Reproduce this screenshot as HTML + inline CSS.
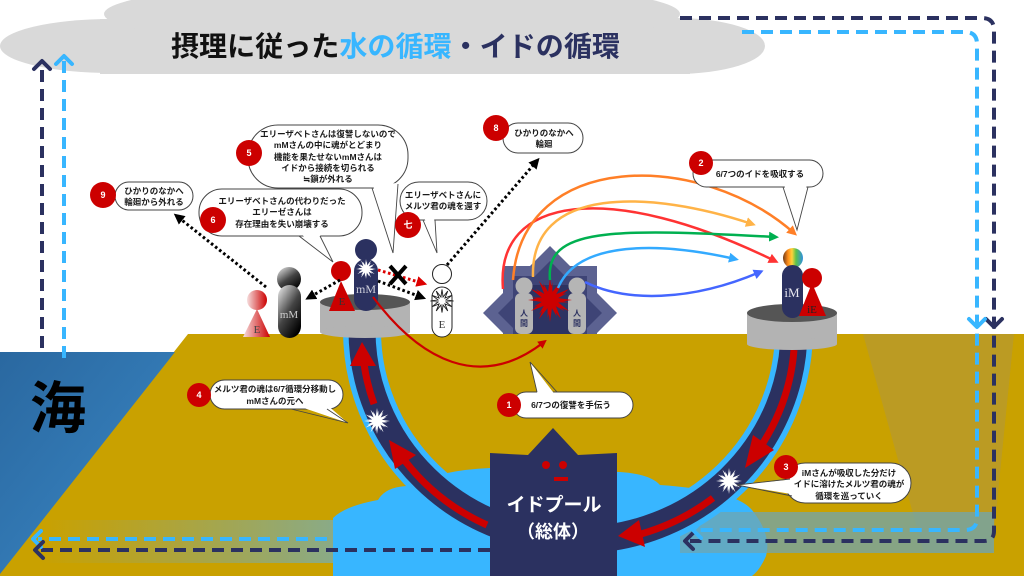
<!DOCTYPE html>
<html><head><meta charset="utf-8">
<style>
html,body{margin:0;padding:0;background:#fff;}
svg{display:block;}
.t{font-family:"Liberation Sans","Noto Sans CJK JP",sans-serif;font-weight:bold;font-size:8.5px;fill:#1a1a1a;text-anchor:middle;}
.n{font-family:"Liberation Sans","Noto Sans CJK JP",sans-serif;font-weight:bold;font-size:9px;fill:#fff;text-anchor:middle;}
.s{font-family:"Liberation Serif",serif;text-anchor:middle;}
.b{fill:#fff;stroke:#444;stroke-width:1;}
</style></head>
<body>
<svg width="1024" height="576" viewBox="0 0 1024 576" xmlns="http://www.w3.org/2000/svg">
<defs>
<path id="burst" d="M10,0 L3.48,0.93 L8.66,5 L2.55,2.55 L5,8.66 L0.93,3.48 L0,10 L-0.93,3.48 L-5,8.66 L-2.55,2.55 L-8.66,5 L-3.48,0.93 L-10,0 L-3.48,-0.93 L-8.66,-5 L-2.55,-2.55 L-5,-8.66 L-0.93,-3.48 L0,-10 L0.93,-3.48 L5,-8.66 L2.55,-2.55 L8.66,-5 L3.48,-0.93 Z"/>
<linearGradient id="seaG" x1="0" y1="0" x2="1" y2="1"><stop offset="0" stop-color="#2a68a0"/><stop offset="1" stop-color="#3a88c6"/></linearGradient>
<linearGradient id="bandL" x1="0" y1="0" x2="1" y2="0"><stop offset="0" stop-color="#7aa8a8" stop-opacity="0"/><stop offset="1" stop-color="#6fb0c0" stop-opacity="0.9"/></linearGradient>
<linearGradient id="pinkG" x1="0" y1="0" x2="1" y2="0"><stop offset="0" stop-color="#f6dede"/><stop offset="1" stop-color="#cc0000"/></linearGradient>
<linearGradient id="grayG" x1="0" y1="0" x2="0.7" y2="1"><stop offset="0" stop-color="#f2f2f2"/><stop offset="0.55" stop-color="#444"/><stop offset="1" stop-color="#000"/></linearGradient>
<linearGradient id="rainG" x1="0" y1="0" x2="1" y2="0"><stop offset="0" stop-color="#6b3a1a"/><stop offset="0.25" stop-color="#ff8c1a"/><stop offset="0.45" stop-color="#ffd23a"/><stop offset="0.65" stop-color="#5cc24a"/><stop offset="1" stop-color="#2f8fe0"/></linearGradient>
<marker id="mR" viewBox="0 0 10 10" refX="6" refY="5" markerWidth="4" markerHeight="4" orient="auto"><path d="M0,0 L10,5 L0,10 z" fill="#ff3333"/></marker>
<marker id="mO" viewBox="0 0 10 10" refX="6" refY="5" markerWidth="4" markerHeight="4" orient="auto"><path d="M0,0 L10,5 L0,10 z" fill="#ff7f27"/></marker>
<marker id="mY" viewBox="0 0 10 10" refX="6" refY="5" markerWidth="4" markerHeight="4" orient="auto"><path d="M0,0 L10,5 L0,10 z" fill="#ffb347"/></marker>
<marker id="mG" viewBox="0 0 10 10" refX="6" refY="5" markerWidth="4" markerHeight="4" orient="auto"><path d="M0,0 L10,5 L0,10 z" fill="#00b050"/></marker>
<marker id="mL" viewBox="0 0 10 10" refX="6" refY="5" markerWidth="4" markerHeight="4" orient="auto"><path d="M0,0 L10,5 L0,10 z" fill="#33aaff"/></marker>
<marker id="mB" viewBox="0 0 10 10" refX="6" refY="5" markerWidth="4" markerHeight="4" orient="auto"><path d="M0,0 L10,5 L0,10 z" fill="#4466ff"/></marker>
<marker id="mRed" viewBox="0 0 10 10" refX="6" refY="5" markerWidth="4" markerHeight="4" orient="auto"><path d="M0,0 L10,5 L0,10 z" fill="#cc0000"/></marker>
<marker id="mK" viewBox="0 0 10 10" refX="5" refY="5" markerWidth="3.6" markerHeight="3.6" orient="auto"><path d="M0,0 L10,5 L0,10 z" fill="#000"/></marker>
<marker id="mKr" viewBox="0 0 10 10" refX="5" refY="5" markerWidth="3.6" markerHeight="3.6" orient="auto"><path d="M0,0 L10,5 L0,10 z" fill="#dd0000"/></marker>
</defs>

<!-- cloud -->
<g fill="#d9d9d9">
<ellipse cx="112" cy="46" rx="112" ry="27"/>
<rect x="100" y="19" width="590" height="55"/>
<ellipse cx="675" cy="46" rx="90" ry="28"/>
<ellipse cx="392" cy="14" rx="288" ry="33"/>
</g>
<text x="171" y="56" font-family="'Liberation Sans','Noto Sans CJK JP',sans-serif" font-weight="bold" font-size="28" textLength="449" lengthAdjust="spacingAndGlyphs"><tspan fill="#111">摂理に従った</tspan><tspan fill="#38b6ff">水の循環</tspan><tspan fill="#2b3160">・イドの循環</tspan></text>

<!-- building star (behind ground) -->
<g>
<rect x="503" y="266" width="94" height="94" fill="#5c6291"/>
<polygon points="550,246 617,313 550,380 483,313" fill="#5c6291"/>
<rect x="513" y="276" width="74" height="74" fill="#3e4476"/>
<polygon points="550,261 602,313 550,365 498,313" fill="#3e4476"/>
<rect x="522" y="285" width="56" height="56" fill="#2d3362"/>
</g>

<!-- ground & sea -->
<polygon points="188,334 1024,334 1024,576 0,576 0,573" fill="#c9a100"/>
<polygon points="0,352 175,352 0,574" fill="url(#seaG)"/>
<text x="58" y="428" font-family="'Liberation Sans','Noto Sans CJK JP',sans-serif" font-weight="bold" font-size="56" fill="#000" text-anchor="middle">海</text>

<!-- right shade & bands -->
<polygon points="863,334 1014,334 992,553 924,553" fill="#8a8aa0" opacity="0.22"/>
<rect x="40" y="520" width="365" height="43" fill="url(#bandL)"/>

<!-- water blob -->
<path d="M333,576 L333,518 Q345,506 378,500 Q386,486 410,486 Q440,470 490,468 L620,472 Q650,474 660,485 Q735,490 752,510 Q772,535 766,556 Q760,570 752,576 Z" fill="#38b6ff"/>
<rect x="680" y="512" width="314" height="41" fill="#6fa6b0" opacity="0.75"/>

<!-- dashed lines -->
<g fill="none" stroke-width="4" stroke-dasharray="12 7">
<path d="M680,18 H982 Q994,18 994,30 V531 Q994,541 984,541 H690" stroke="#2b3160"/>
<path d="M742,32 H965 Q977,32 977,44 V518 Q977,530 965,530 H698" stroke="#38b6ff"/>
<path d="M403,539 H38" stroke="#38b6ff"/>
<path d="M490,550 H40" stroke="#2b3160"/>
<path d="M42,348 V66" stroke="#2b3160"/>
<path d="M64,358 V60" stroke="#38b6ff"/>
</g>
<g fill="none" stroke-width="4" stroke-linecap="round" stroke-linejoin="round">
<polyline points="986,319 994,327 1002,319" stroke="#2b3160"/>
<polyline points="969,319 977,327 985,319" stroke="#38b6ff"/>
<polyline points="693,533 685,541 693,549" stroke="#2b3160"/>
<polyline points="701,522 693,530 701,538" stroke="#38b6ff"/>
<polyline points="41,531 33,539 41,547" stroke="#38b6ff"/>
<polyline points="43,542 35,550 43,558" stroke="#2b3160"/>
<polyline points="34,69 42,61 50,69" stroke="#2b3160"/>
<polyline points="56,64 64,56 72,64" stroke="#38b6ff"/>
</g>

<!-- U tube -->
<path d="M362,330 A216,210 0 0 0 794,330" fill="none" stroke="#38b6ff" stroke-width="38"/>
<path d="M362,330 A216,210 0 0 0 794,330" fill="none" stroke="#2b3160" stroke-width="27"/>
<g fill="none" stroke="#cc0000" stroke-width="7">
<path d="M374,404 A216,210 0 0 1 364,364"/>
<path d="M487,525 A216,210 0 0 1 405,461"/>
<path d="M794,350 A216,210 0 0 1 763,443"/>
<path d="M713,498 A216,210 0 0 1 641,534"/>
</g>
<g fill="#cc0000">
<polygon points="362,342 376,366 350,366"/>
<polygon points="389,440 416,455 395,469"/>
<polygon points="745,468 774,450 753,435"/>
<polygon points="618,536 645,547 639,520"/>
</g>
<g fill="#fff">
<use href="#burst" transform="translate(377,421) scale(1.3)"/>
<use href="#burst" transform="translate(377,421) scale(1.05) rotate(7.5)"/>
<use href="#burst" transform="translate(729,481) scale(1.3)"/>
<use href="#burst" transform="translate(729,481) scale(1.05) rotate(7.5)"/>
</g>

<!-- Id pool figure -->
<polygon points="490,453 528,455 553,428 578,455 617,453 617,576 490,576" fill="#2b3160"/>
<circle cx="546" cy="465" r="4" fill="#cc0000"/>
<circle cx="563" cy="465" r="4" fill="#cc0000"/>
<rect x="554" y="477" width="14" height="4" fill="#cc0000"/>
<text x="554" y="511" font-family="'Liberation Sans','Noto Sans CJK JP',sans-serif" font-weight="bold" font-size="19" fill="#fff" text-anchor="middle">イドプール</text>
<text x="553" y="538" font-family="'Liberation Sans','Noto Sans CJK JP',sans-serif" font-weight="bold" font-size="18" fill="#fff" text-anchor="middle">（総体）</text>

<!-- left platform -->
<rect x="320" y="302" width="90" height="30" fill="#b3b3b3"/>
<ellipse cx="365" cy="332" rx="45" ry="6" fill="#b3b3b3"/>
<ellipse cx="365" cy="302" rx="45" ry="8" fill="#555"/>
<!-- right platform -->
<rect x="747" y="313" width="90" height="31" fill="#b3b3b3"/>
<ellipse cx="792" cy="344" rx="45" ry="6" fill="#b3b3b3"/>
<ellipse cx="792" cy="313" rx="45" ry="9" fill="#555"/>

<!-- left gradient figures -->
<circle cx="257" cy="300" r="10" fill="url(#pinkG)"/>
<polygon points="257,309 243,337 270,337" fill="url(#pinkG)"/>
<text x="257" y="333" class="s" font-size="11" fill="#444">E</text>
<circle cx="289" cy="279" r="12" fill="url(#grayG)"/>
<rect x="278" y="285" width="23" height="53" rx="11.5" fill="url(#grayG)"/>
<text x="289" y="318" class="s" font-size="11" fill="#ccc">mM</text>

<!-- E and mM on platform -->
<circle cx="341" cy="271" r="10" fill="#cc0000"/>
<polygon points="341,281 329,311 355,311" fill="#cc0000"/>
<text x="342" y="305" class="s" font-size="11" fill="#333">E</text>
<circle cx="366" cy="250" r="11" fill="#2b3160"/>
<rect x="354" y="259" width="24" height="52" rx="12" fill="#2b3160"/>
<g fill="#fff"><use href="#burst" transform="translate(366,269) scale(1.0)"/><use href="#burst" transform="translate(366,269) scale(0.8) rotate(7.5)"/></g>
<text x="366" y="293" class="s" font-size="12" fill="#cfd0dc">mM</text>

<!-- ghost figure -->
<circle cx="442" cy="274" r="9.5" fill="#fff" stroke="#222" stroke-width="1"/>
<rect x="432" y="287" width="20" height="50" rx="10" fill="#fff" stroke="#222" stroke-width="1"/>
<use href="#burst" transform="translate(442,301) scale(1.15)" fill="#fff" stroke="#222" stroke-width="0.8"/>
<text x="442" y="328" class="s" font-size="11" fill="#333">E</text>

<!-- humans -->
<circle cx="524" cy="286" r="8.5" fill="#b5b5b5"/>
<rect x="515" y="293" width="18" height="41" rx="6" fill="#b5b5b5"/>
<circle cx="577" cy="286" r="8.5" fill="#b5b5b5"/>
<rect x="568" y="293" width="18" height="41" rx="6" fill="#b5b5b5"/>
<g font-family="'Liberation Sans','Noto Sans CJK JP',sans-serif" font-weight="bold" font-size="8" fill="#2b3160" text-anchor="middle">
<text x="524" y="316">人</text><text x="524" y="326">間</text>
<text x="577" y="316">人</text><text x="577" y="326">間</text>
</g>
<use href="#burst" transform="translate(550,300) scale(2.2)" fill="#cc0000"/>
<use href="#burst" transform="translate(550,300) scale(1.8) rotate(7.5)" fill="#cc0000"/>

<!-- iM & iE -->
<circle cx="793" cy="258" r="10" fill="url(#rainG)"/>
<rect x="782" y="265" width="21" height="53" rx="10.5" fill="#2b3160"/>
<text x="792" y="297" class="s" font-size="13" fill="#e8e8f0">iM</text>
<circle cx="812" cy="278" r="10" fill="#cc0000"/>
<polygon points="812,283 799,316 826,316" fill="#cc0000"/>
<text x="812" y="313" class="s" font-size="11" fill="#222">iE</text>

<!-- red curve mM -> humans -->
<path d="M373,297 C420,360 480,392 544,342" fill="none" stroke="#cc0000" stroke-width="2.2" marker-end="url(#mRed)"/>

<!-- colored arrows -->
<g fill="none" stroke-width="2.5">
<path d="M503,289 C495,195 610,180 775,261" stroke="#ff3333" marker-end="url(#mR)"/>
<path d="M513,280 C522,150 700,150 794,233" stroke="#ff7f27" marker-end="url(#mO)"/>
<path d="M533,277 C530,185 650,190 752,224" stroke="#ffb347" marker-end="url(#mY)"/>
<path d="M550,280 C545,228 610,228 775,237" stroke="#00b050" marker-end="url(#mG)"/>
<path d="M558,288 C578,240 660,242 735,259" stroke="#33aaff" marker-end="url(#mL)"/>
<path d="M585,282 C625,302 690,302 760,272" stroke="#4466ff" marker-end="url(#mB)"/>
</g>

<!-- dotted arrows -->
<g fill="none" stroke-width="3" stroke-dasharray="2.6 2.6">
<path d="M266,287 L178,217" stroke="#000" marker-end="url(#mK)"/>
<path d="M340,280 L310,297" stroke="#000" marker-end="url(#mK)"/>
<path d="M378,270 L422,283" stroke="#dd0000" marker-end="url(#mKr)"/>
<path d="M378,281 L421,297" stroke="#000" marker-end="url(#mK)"/>
<path d="M447,265 L536,162" stroke="#000" marker-end="url(#mK)"/>
</g>
<g stroke="#000" stroke-width="4"><line x1="390" y1="266" x2="406" y2="284"/><line x1="406" y1="266" x2="390" y2="284"/></g>

<!-- callouts -->
<!-- 5 -->
<rect x="248" y="125" width="160" height="63" rx="30" class="b"/>
<polygon points="373,185 397,183 393,253" fill="#fff"/>
<polyline points="372,188 393,253 398,184" fill="none" stroke="#444" stroke-width="0.9"/>
<text class="t" x="328" y="137">エリーザベトさんは復讐しないので</text>
<text class="t" x="328" y="148">mMさんの中に魂がとどまり</text>
<text class="t" x="328" y="160">機能を果たせないmMさんは</text>
<text class="t" x="328" y="171">イドから接続を切られる</text>
<text class="t" x="328" y="182">≒鎖が外れる</text>
<circle cx="249" cy="153" r="13" fill="#cc0000"/><text class="n" x="249" y="156">5</text>

<!-- 6 -->
<rect x="199" y="189" width="163" height="47" rx="23" class="b"/>
<polygon points="300,233 319,233 333,262" fill="#fff"/>
<polyline points="299,236 333,262 320,236" fill="none" stroke="#444" stroke-width="0.9"/>
<text class="t" x="282" y="204">エリーザベトさんの代わりだった</text>
<text class="t" x="282" y="215">エリーゼさんは</text>
<text class="t" x="282" y="227">存在理由を失い崩壊する</text>
<circle cx="213" cy="220" r="13" fill="#cc0000"/><text class="n" x="213" y="223">6</text>

<!-- 9 -->
<rect x="115" y="182" width="78" height="28" rx="14" class="b"/>
<text class="t" x="154" y="194">ひかりのなかへ</text>
<text class="t" x="154" y="205">輪廻から外れる</text>
<circle cx="103" cy="195" r="13" fill="#cc0000"/><text class="n" x="103" y="198">9</text>

<!-- 7 -->
<rect x="400" y="182" width="87" height="38" rx="19" class="b"/>
<polygon points="424,217 434,217 437,253" fill="#fff"/>
<polyline points="423,220 437,253 435,220" fill="none" stroke="#444" stroke-width="0.9"/>
<text class="t" x="443" y="198">エリーザベトさんに</text>
<text class="t" x="443" y="209">メルツ君の魂を還す</text>
<circle cx="408" cy="225" r="13" fill="#cc0000"/><text class="n" x="408" y="228">七</text>

<!-- 8 -->
<rect x="503" y="123" width="80" height="30" rx="15" class="b"/>
<text class="t" x="544" y="136">ひかりのなかへ</text>
<text class="t" x="544" y="147">輪廻</text>
<circle cx="496" cy="128" r="13" fill="#cc0000"/><text class="n" x="496" y="131">8</text>

<!-- 2 -->
<rect x="693" y="160" width="130" height="27" rx="13.5" class="b"/>
<polygon points="784,184 807,184 797,230" fill="#fff"/>
<polyline points="783,187 797,230 808,187" fill="none" stroke="#444" stroke-width="0.9"/>
<text class="t" x="760" y="177">6/7つのイドを吸収する</text>
<circle cx="701" cy="163" r="12" fill="#cc0000"/><text class="n" x="701" y="166">2</text>

<!-- 1 -->
<rect x="513" y="392" width="120" height="26" rx="13" class="b"/>
<polygon points="538,396 556,396 530,362" fill="#fff"/>
<polyline points="537,392 530,362 557,392" fill="none" stroke="#444" stroke-width="0.9"/>
<text class="t" x="571" y="408">6/7つの復讐を手伝う</text>
<circle cx="509" cy="405" r="12" fill="#cc0000"/><text class="n" x="509" y="408">1</text>

<!-- 4 -->
<rect x="210" y="380" width="133" height="29" rx="14.5" class="b"/>
<polygon points="292,404 326,404 348,423" fill="#fff"/>
<polyline points="291,409 348,423 327,409" fill="none" stroke="#444" stroke-width="0.9"/>
<text class="t" x="275" y="392">メルツ君の魂は6/7循環分移動し</text>
<text class="t" x="275" y="404">mMさんの元へ</text>
<circle cx="199" cy="395" r="12" fill="#cc0000"/><text class="n" x="199" y="398">4</text>

<!-- 3 -->
<rect x="785" y="463" width="126" height="40" rx="20" class="b"/>
<polygon points="795,479 797,495 737,485" fill="#fff"/>
<polyline points="790,479 737,485 792,496" fill="none" stroke="#444" stroke-width="0.9"/>
<text class="t" x="849" y="476">iMさんが吸収した分だけ</text>
<text class="t" x="849" y="487">イドに溶けたメルツ君の魂が</text>
<text class="t" x="849" y="499">循環を巡っていく</text>
<circle cx="786" cy="467" r="12" fill="#cc0000"/><text class="n" x="786" y="470">3</text>
</svg>
</body></html>
